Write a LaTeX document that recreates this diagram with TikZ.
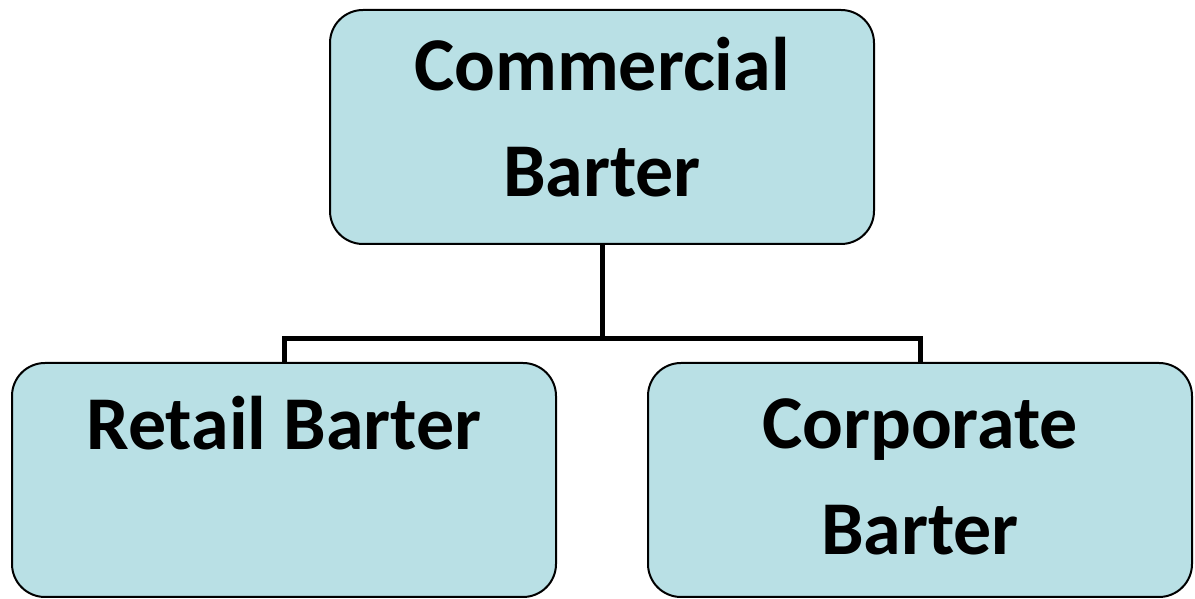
\documentclass[tikz,border=0pt]{standalone}
\usepackage{fontspec}
\setmainfont{Carlito}
\definecolor{boxfill}{RGB}{185,224,229}
\tikzset{
  boxshape/.style={draw=black, line width=2pt, fill=boxfill, rounded corners=33pt,
    minimum width=544pt, minimum height=234pt, inner sep=0pt},
  boxlabel/.style={anchor=base, align=center, inner sep=0pt,
    font=\fontsize{76}{106}\selectfont\bfseries},
  linkline/.style={line width=5pt}
}
\begin{document}
\begin{tikzpicture}[x=1pt,y=1pt]
\useasboundingbox (0,0) rectangle (1195,599);
\node[boxshape] (top) at (602,472) {};
\node[boxshape] (left) at (284,119) {};
\node[boxshape] (right) at (920,119) {};
\node[boxlabel] (toplabel) at (602,402) {Commercial\\Barter};
\node[boxlabel] (leftlabel) at (284,149) {Retail Barter};
\node[boxlabel] (rightlabel) at (920,44) {Corporate\\Barter};
\draw[linkline] (top.south) -- ++(0,-94) coordinate (joint);
\draw[linkline] (left.north) |- (joint) -| (right.north);
\end{tikzpicture}
\end{document}
